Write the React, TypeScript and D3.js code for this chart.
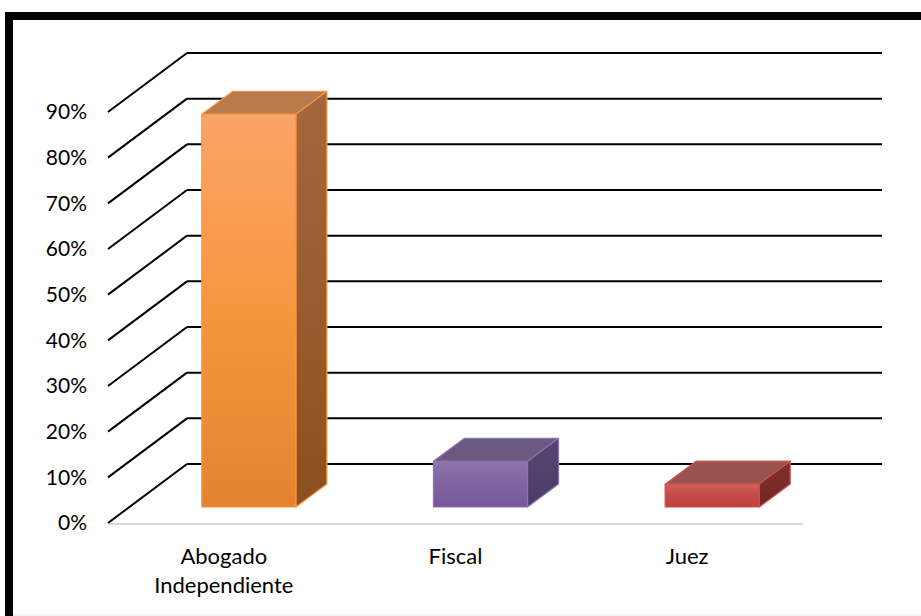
import React from "react";
import * as d3 from "d3";

const categories = ["Abogado Independiente", "Fiscal", "Juez"];
const categoryLines = [["Abogado", "Independiente"], ["Fiscal"], ["Juez"]];
const values = [0.86, 0.10, 0.05];
const ticks = [0, 0.1, 0.2, 0.3, 0.4, 0.5, 0.6, 0.7, 0.8, 0.9];

const palettes = [
  { frontTop: "#FAA466", frontMid: "#F7963F", frontBot: "#E5822E", top: "#B87A4B", sideTop: "#A4683C", sideBot: "#8C5020", stroke: "#F79646" },
  { frontTop: "#8C75AC", frontMid: "#8064A2", frontBot: "#765898", top: "#6B5A80", sideTop: "#574672", sideBot: "#4A3A64", stroke: "#8E72B4" },
  { frontTop: "#CA625E", frontMid: "#C34A47", frontBot: "#BE403D", top: "#985250", sideTop: "#80302E", sideBot: "#732826", stroke: "#D0504D" },
];

export default function App() {
  const W = 921, H = 616;
  const floorL = 108, floorR = 803, floorY = 523;
  const wallDx = 79, wallDy = -59;
  const barOffDx = 25, barOffDy = -16;
  const barDx = 31, barDy = -23;

  const y = d3.scaleLinear().domain([0, 0.9]).range([floorY, 112]);
  const x = d3.scaleBand<string>().domain(categories).range([floorL, floorR]).paddingInner(0.594).paddingOuter(0.297);
  const pct = d3.format(".0%");
  const font = "Lato, 'Noto Sans', sans-serif";

  return (
    <svg width={W} height={H} style={{ position: "absolute", left: 0, top: 0, background: "#fff" }}>
      <defs>
        {palettes.map((p, i) => (
          <g key={i}>
            <linearGradient id={`front${i}`} x1="0" y1="0" x2="0" y2="1">
              <stop offset="0" stopColor={p.frontTop} />
              <stop offset="0.5" stopColor={p.frontMid} />
              <stop offset="1" stopColor={p.frontBot} />
            </linearGradient>
            <linearGradient id={`side${i}`} x1="0" y1="0" x2="0" y2="1">
              <stop offset="0" stopColor={p.sideTop} />
              <stop offset="1" stopColor={p.sideBot} />
            </linearGradient>
          </g>
        ))}
      </defs>
      <rect x={0} y={0} width={W} height={H} fill="#fff" />
      <line x1={floorL} y1={floorY + 1} x2={floorR} y2={floorY + 1} stroke="#D9D9D9" strokeWidth={2} />
      {ticks.map((t) => (
        <g key={t}>
          <line x1={floorL} y1={y(t)} x2={floorL + wallDx} y2={y(t) + wallDy} stroke="#000" strokeWidth={2} />
          <line x1={floorL + wallDx} y1={y(t) + wallDy} x2={floorR + wallDx} y2={y(t) + wallDy} stroke="#000" strokeWidth={2} />
          <text x={87} y={y(t)} dy="0.35em" textAnchor="end" fontFamily={font} fontSize={21} fill="#000">
            {pct(t)}
          </text>
        </g>
      ))}
      {categories.map((c, i) => {
        const p = palettes[i];
        const x0 = (x(c) as number) + barOffDx;
        const x1 = x0 + x.bandwidth();
        const yb = y(0) + barOffDy;
        const yt = y(values[i]) + barOffDy;
        const front = `M${x0},${yt}L${x1},${yt}L${x1},${yb}L${x0},${yb}Z`;
        const top = `M${x0},${yt}L${x0 + barDx},${yt + barDy}L${x1 + barDx},${yt + barDy}L${x1},${yt}Z`;
        const side = `M${x1},${yt}L${x1 + barDx},${yt + barDy}L${x1 + barDx},${yb + barDy}L${x1},${yb}Z`;
        return (
          <g key={c} strokeWidth={1.2} stroke={p.stroke} strokeLinejoin="round">
            <path d={top} fill={p.top} />
            <path d={side} fill={`url(#side${i})`} />
            <path d={front} fill={`url(#front${i})`} />
          </g>
        );
      })}
      {categories.map((c, i) => {
        const cx = (x(c) as number) + x.bandwidth() / 2;
        return (
          <text key={c} x={cx} y={564} textAnchor="middle" fontFamily={font} fontSize={22} fill="#000">
            {categoryLines[i].map((ln, j) => (
              <tspan key={j} x={cx} dy={j === 0 ? 0 : 29}>{ln}</tspan>
            ))}
          </text>
        );
      })}
      <line x1={13} y1={615} x2={W} y2={615} stroke="#E6E6E6" strokeWidth={1} />
      <rect x={9} y={16} width={1200} height={1200} fill="none" stroke="#000" strokeWidth={8} />
    </svg>
  );
}
